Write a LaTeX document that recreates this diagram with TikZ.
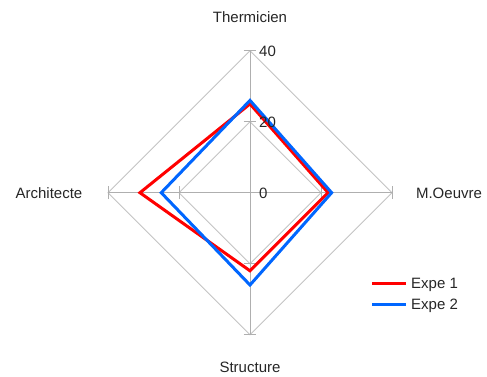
\documentclass[tikz,border=0pt]{standalone}
\usepackage{fontspec}
\setmainfont{Liberation Sans}
\definecolor{expered}{RGB}{255,0,0}
\definecolor{expeblue}{RGB}{0,102,255}
\definecolor{gridgray}{RGB}{195,195,195}
\definecolor{axisgray}{RGB}{175,175,175}
\tikzset{
    label text/.style = {font = \fontsize{15}{18}\selectfont, text = black!85, inner sep = 0pt},
    gridline/.style = {draw = gridgray, line width = 0.8pt},
    axisline/.style = {draw = axisgray, line width = 0.9pt},
    expeone/.style = {draw = expered, line width = 3pt, line join = miter},
    expetwo/.style = {draw = expeblue, line width = 3pt, line join = miter}
}
\begin{document}
\begin{tikzpicture}[x = 1pt, y = 1pt]
                \useasboundingbox (-250,-183.3) rectangle (237,192.7);
                \begin{scope}[x = 3.55pt, y = 3.55pt]
                    \coordinate (ctr) at (0,0);
                    \coordinate (top) at (0,40);
                    \coordinate (rgt) at (40,0);
                    \coordinate (bot) at (0,-40);
                    \coordinate (lft) at (-40,0);
                    % grid
                    \draw[gridline] (0,20) -- (20,0) -- (0,-20) -- (-20,0) -- cycle;
                    \draw[gridline] (top) -- (rgt) -- (bot) -- (lft) -- cycle;
                    % axes
                    \draw[axisline] (top) -- (bot);
                    \draw[axisline] (lft) -- (rgt);
                    \begin{scope}[axisline]
                        \draw (-1.8,40) -- (1.8,40);
                        \draw (-1.8,20) -- (1.8,20);
                        \draw (-1.8,-20) -- (1.8,-20);
                        \draw (-1.8,-40) -- (1.8,-40);
                        \draw (40,-1.8) -- (40,1.8);
                        \draw (20,-1.8) -- (20,1.8);
                        \draw (-20,-1.8) -- (-20,1.8);
                        \draw (-40,-1.8) -- (-40,1.8);
                    \end{scope}
                    % data
                    \draw[expeone] (0,25) -- (22,0) -- (0,-22) -- (-31,0) -- cycle;
                    \draw[expetwo] (0,26) -- (23,0) -- (0,-26) -- (-25,0) -- cycle;
                \end{scope}
                \begin{scope}[every node/.append style = {label text, anchor = base west}]
                    \node (v40) at (9,136.6) {40};
                    \node (v20) at (9,65.6) {20};
                    \node (v0) at (9,-5.4) {0};
                \end{scope}
                \begin{scope}[every node/.append style = {label text, anchor = base}]
                    \node (therm) at (0,170.6) {Thermicien};
                    \node (moeuv) at (199,-5.4) {M.Oeuvre};
                    \node (struc) at (0,-179.4) {Structure};
                    \node (archi) at (-201,-5.4) {Architecte};
                \end{scope}
                % legend
                \coordinate (leg1) at (122,-90.3);
                \coordinate (leg2) at (122,-111.3);
                \draw[expeone] (leg1) -- ++(34,0) coordinate (leg1e);
                \draw[expetwo] (leg2) -- ++(34,0) coordinate (leg2e);
                \node[label text, anchor = base west] (expe1) at ([xshift = 5pt, yshift = -5.4pt]leg1e) {Expe 1};
                \node[label text, anchor = base west] (expe2) at ([xshift = 5pt, yshift = -5.4pt]leg2e) {Expe 2};
            \end{tikzpicture}
\end{document}
